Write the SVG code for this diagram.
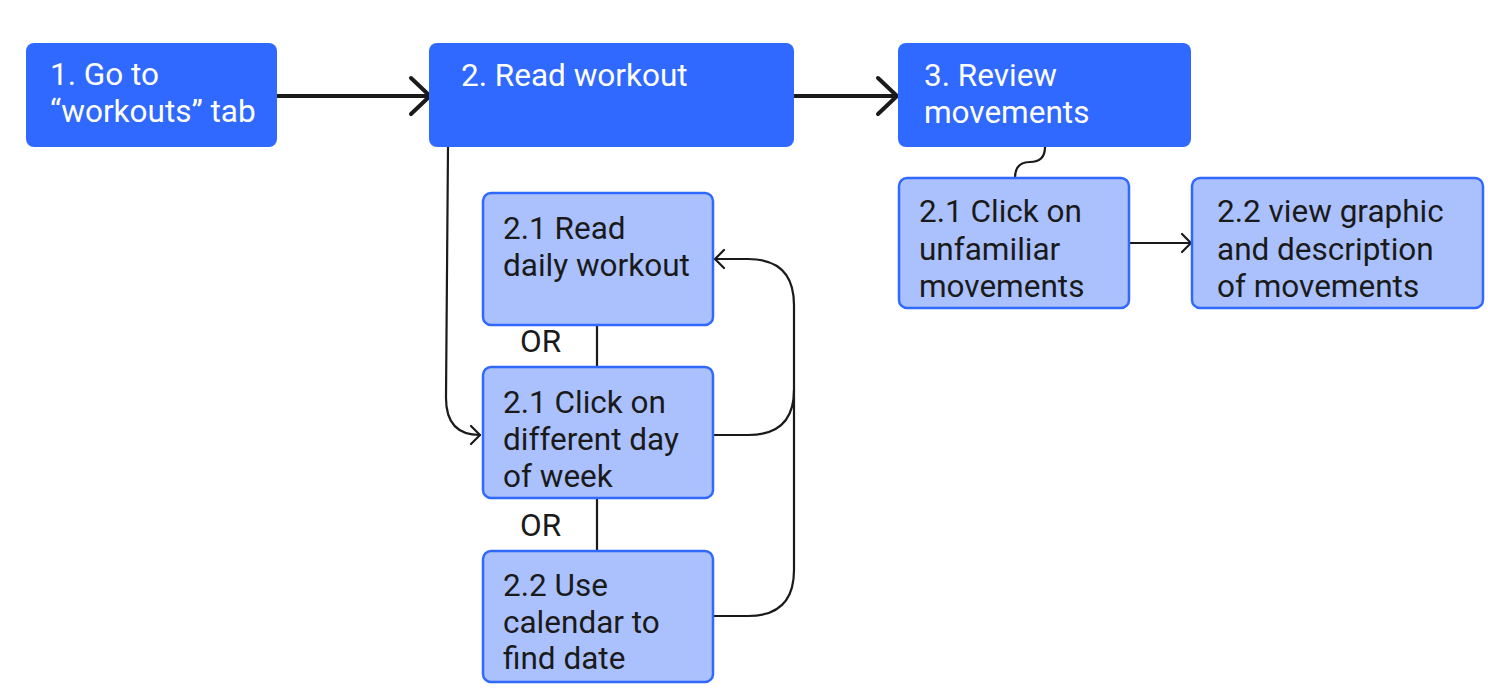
<svg xmlns="http://www.w3.org/2000/svg" width="1488" height="693" viewBox="0 0 1488 693">
<style>
.main{fill:#3069ff;}
.sub{fill:#abc1fd;stroke:#3069ff;stroke-width:2.5;}
.tw{font-family:Roboto,"Liberation Sans",sans-serif;font-size:31.5px;fill:#ffffff;}
.tb{font-family:Roboto,"Liberation Sans",sans-serif;font-size:31.5px;fill:#1a1a1a;}
.thick{fill:none;stroke:#1a1a1a;stroke-width:4;stroke-linecap:round;stroke-linejoin:round;}
.thin{fill:none;stroke:#1a1a1a;stroke-width:2.2;stroke-linecap:round;stroke-linejoin:round;}
</style>
<rect width="1488" height="693" fill="#ffffff"/>
<g id="connectors">
  <path class="thick" d="M277,96 L429,96"/>
  <path class="thick" d="M411,78 L430,96 L411,114"/>
  <path class="thick" d="M794,96 L896,96"/>
  <path class="thick" d="M878,78 L897,96 L878,114"/>
  <path class="thin" d="M448,147 L446,398 Q446,435 480,435"/>
  <path class="thin" d="M471,426 L480,435 L471,444"/>
  <path class="thin" d="M713,435 L748,435 Q794,435 794,390 L794,305 Q794,259 748,259 L715,259"/>
  <path class="thin" d="M724,250 L715,259 L724,268"/>
  <path class="thin" d="M713,616 L748,616 Q794,616 794,570 L794,390"/>
  <path class="thin" d="M597,325 L597,367"/>
  <path class="thin" d="M597,498 L597,551"/>
  <path class="thin" d="M1045,147 Q1045,162 1030,162 Q1015,162 1015,178"/>
  <path class="thin" d="M1130,243 L1190,243"/>
  <path class="thin" d="M1182,234 L1191,243 L1182,252"/>
</g>
<g id="n1">
  <rect class="main" x="26" y="43" width="251" height="104" rx="8"/>
  <text class="tw" x="50" y="85">1. Go to</text>
  <text class="tw" x="50" y="122">“workouts” tab</text>
</g>
<g id="n2">
  <rect class="main" x="429" y="43" width="365" height="104" rx="8"/>
  <text class="tw" x="461" y="86">2. Read workout</text>
</g>
<g id="n3">
  <rect class="main" x="898" y="43" width="293" height="104" rx="8"/>
  <text class="tw" x="924" y="86">3. Review</text>
  <text class="tw" x="924" y="123">movements</text>
</g>
<g id="n21read">
  <rect class="sub" x="483" y="193" width="230" height="132" rx="8"/>
  <text class="tb" x="503" y="239">2.1 Read</text>
  <text class="tb" x="503" y="276">daily workout</text>
</g>
<g id="or1"><text class="tb" x="520" y="352">OR</text></g>
<g id="n21click">
  <rect class="sub" x="483" y="367" width="230" height="131" rx="8"/>
  <text class="tb" x="503" y="413">2.1 Click on</text>
  <text class="tb" x="503" y="450">different day</text>
  <text class="tb" x="503" y="487">of week</text>
</g>
<g id="or2"><text class="tb" x="520" y="536">OR</text></g>
<g id="n22cal">
  <rect class="sub" x="483" y="551" width="230" height="131" rx="8"/>
  <text class="tb" x="503" y="596">2.2 Use</text>
  <text class="tb" x="503" y="633">calendar to</text>
  <text class="tb" x="503" y="669">find date</text>
</g>
<g id="n31click">
  <rect class="sub" x="899" y="178" width="230" height="130" rx="8"/>
  <text class="tb" x="919" y="222">2.1 Click on</text>
  <text class="tb" x="919" y="260">unfamiliar</text>
  <text class="tb" x="919" y="297">movements</text>
</g>
<g id="n32view">
  <rect class="sub" x="1192" y="178" width="291" height="130" rx="8"/>
  <text class="tb" x="1217" y="222">2.2 view graphic</text>
  <text class="tb" x="1217" y="260">and description</text>
  <text class="tb" x="1217" y="297">of movements</text>
</g>
</svg>
